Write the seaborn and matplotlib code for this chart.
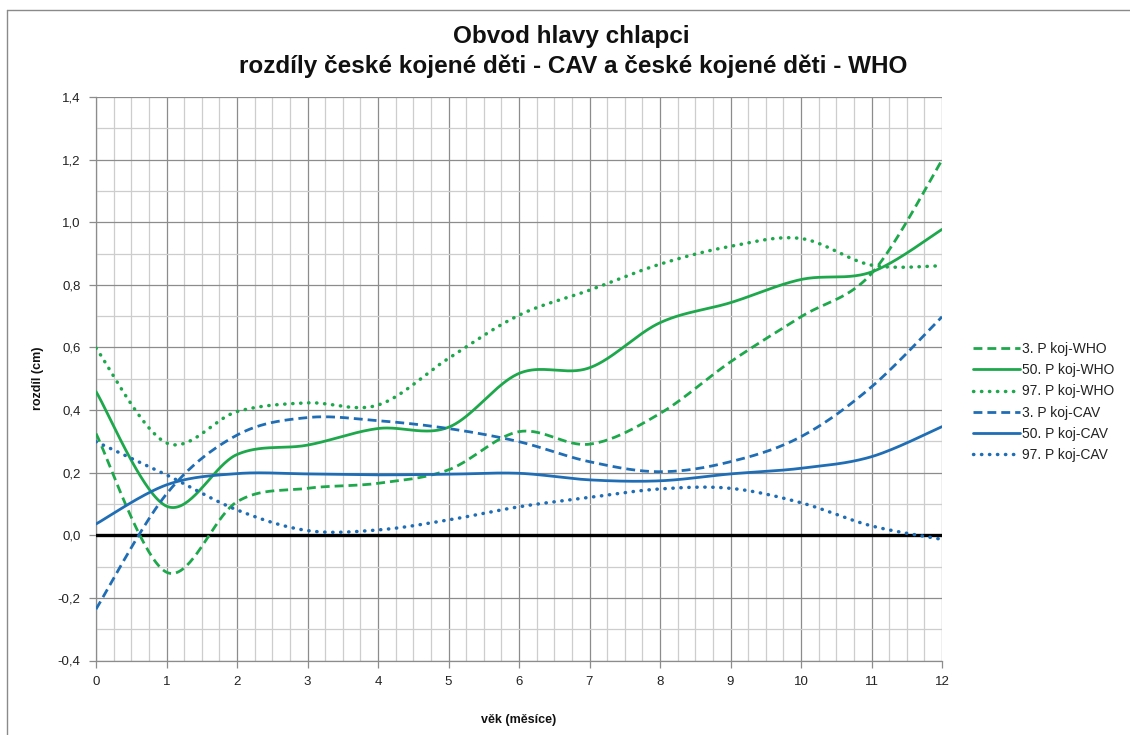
import numpy as np
import pandas as pd
import matplotlib
matplotlib.use("Agg")
import matplotlib.pyplot as plt
from matplotlib.lines import Line2D
from matplotlib.ticker import MultipleLocator, FuncFormatter
import seaborn as sns

months = list(range(13))
labels = ["3. P koj-WHO", "50. P koj-WHO", "97. P koj-WHO",
          "3. P koj-CAV", "50. P koj-CAV", "97. P koj-CAV"]
p3_who = [0.325, -0.118, 0.107, 0.150, 0.166, 0.209, 0.331, 0.291, 0.389, 0.554, 0.698, 0.836, 1.198]
p50_who = [0.459, 0.093, 0.258, 0.288, 0.341, 0.345, 0.517, 0.535, 0.679, 0.743, 0.817, 0.841, 0.977]
p97_who = [0.598, 0.295, 0.395, 0.423, 0.416, 0.565, 0.703, 0.783, 0.866, 0.923, 0.948, 0.863, 0.861]
p3_cav = [-0.236, 0.132, 0.320, 0.376, 0.366, 0.341, 0.299, 0.235, 0.203, 0.235, 0.315, 0.474, 0.698]
p50_cav = [0.036, 0.161, 0.197, 0.196, 0.193, 0.195, 0.198, 0.177, 0.174, 0.196, 0.214, 0.251, 0.347]
p97_cav = [0.299, 0.193, 0.081, 0.015, 0.017, 0.049, 0.091, 0.121, 0.148, 0.150, 0.104, 0.030, -0.013]

series = [p3_who, p50_who, p97_who, p3_cav, p50_cav, p97_cav]
green = "#1EA84C"
blue = "#1F6EB5"
colors = [green, green, green, blue, blue, blue]
dash = (0, (3.2, 1.8))
dot = (0, (0.1, 2.2))
styles = [dash, "-", dot, dash, "-", dot]
widths = [2.0, 2.0, 2.5, 2.0, 2.0, 2.5]


def smooth(xs, ys, n=40):
    """Excel-like smoothed line (Catmull-Rom Bezier) through the data points."""
    P = np.column_stack([xs, ys]).astype(float)
    P = np.vstack([P[0], P, P[-1]])
    out = []
    t = np.linspace(0, 1, n)[:, None]
    for i in range(1, len(P) - 2):
        p0, p1, p2, p3 = P[i - 1], P[i], P[i + 1], P[i + 2]
        c1 = p1 + (p2 - p0) / 6.0
        c2 = p2 - (p3 - p1) / 6.0
        seg = ((1 - t) ** 3) * p1 + 3 * ((1 - t) ** 2) * t * c1 + 3 * (1 - t) * t ** 2 * c2 + t ** 3 * p2
        out.append(seg if i == 1 else seg[1:])
    out = np.vstack(out)
    return out[:, 0], out[:, 1]


sns.set_theme(style="white")
plt.rcParams["font.family"] = ["Liberation Sans", "DejaVu Sans"]

fig = plt.figure(figsize=(11.3, 7.35), dpi=100)
ax = fig.add_axes([96 / 1130, 1 - 660.5 / 735, 846 / 1130, 563.5 / 735])

ax.set_xlim(0, 12)
ax.set_ylim(-0.4, 1.4)
ax.xaxis.set_major_locator(MultipleLocator(1))
ax.xaxis.set_minor_locator(MultipleLocator(0.25))
ax.yaxis.set_major_locator(MultipleLocator(0.2))
ax.yaxis.set_minor_locator(MultipleLocator(0.1))
ax.grid(which="major", color="#8c8c8c", lw=0.9)
ax.grid(which="minor", color="#cdcdcd", lw=0.9)
ax.set_axisbelow(True)

ax.axhline(0, color="black", lw=2.4, zorder=3)

for ys, lab, c, ls, w in zip(series, labels, colors, styles, widths):
    sx, sy = smooth(months, ys)
    df = pd.DataFrame({"x": sx, "y": sy})
    sns.lineplot(data=df, x="x", y="y", ax=ax, color=c, lw=w, sort=False,
                 estimator=None, zorder=4, linestyle=ls,
                 solid_capstyle="round", dash_capstyle="round" if ls is dot else "butt")

ax.yaxis.set_major_formatter(FuncFormatter(lambda v, p: f"{v:.1f}".replace(".", ",")))
ax.xaxis.set_major_formatter(FuncFormatter(lambda v, p: f"{int(round(v))}"))
ax.tick_params(axis="both", which="major", direction="out", length=5, width=0.9,
               color="#8c8c8c", labelsize=9.5, labelcolor="#222222", bottom=True, left=True, pad=6)
ax.tick_params(which="minor", length=0)
for side in ["top", "right"]:
    ax.spines[side].set_visible(False)
for side in ["left", "bottom"]:
    ax.spines[side].set_color("#8c8c8c")
    ax.spines[side].set_linewidth(0.9)

ax.set_xlabel("věk (měsíce)", fontsize=9, fontweight="bold", color="#111111")
ax.set_ylabel("rozdíl (cm)", fontsize=9, fontweight="bold", color="#111111")
ax.xaxis.set_label_coords(0.5, -0.095)
ax.yaxis.set_label_coords(-0.062, 0.5)

fig.text(571 / 1130, 1 - 36 / 735, "Obvod hlavy chlapci", ha="center", va="center",
         fontsize=17.5, fontweight="bold", color="#111111")
fig.text(573 / 1130, 1 - 66 / 735, "rozdíly české kojené děti - CAV a české kojené děti - WHO",
         ha="center", va="center", fontsize=17.5, fontweight="bold", color="#111111")

handles = [Line2D([0], [0], color=c, lw=w, linestyle=ls,
                  dash_capstyle="round" if ls is dot else "butt")
           for c, ls, w in zip(colors, styles, widths)]
fig.legend(handles, labels, loc="center left", bbox_to_anchor=(967 / 1130, 1 - 402 / 735),
           frameon=False, fontsize=10, handlelength=3.4, handletextpad=0.15,
           labelspacing=0.52, borderaxespad=0, labelcolor="#222222")

# outer chart border (top and left visible)
fig.add_artist(Line2D([7 / 1130, 7 / 1130], [0, 1 - 10 / 735], transform=fig.transFigure,
                      color="#8a8a8a", lw=1.0))
fig.add_artist(Line2D([7 / 1130, 1], [1 - 10 / 735, 1 - 10 / 735], transform=fig.transFigure,
                      color="#8a8a8a", lw=1.0))

fig.savefig("out.png", dpi=100, facecolor="white")
